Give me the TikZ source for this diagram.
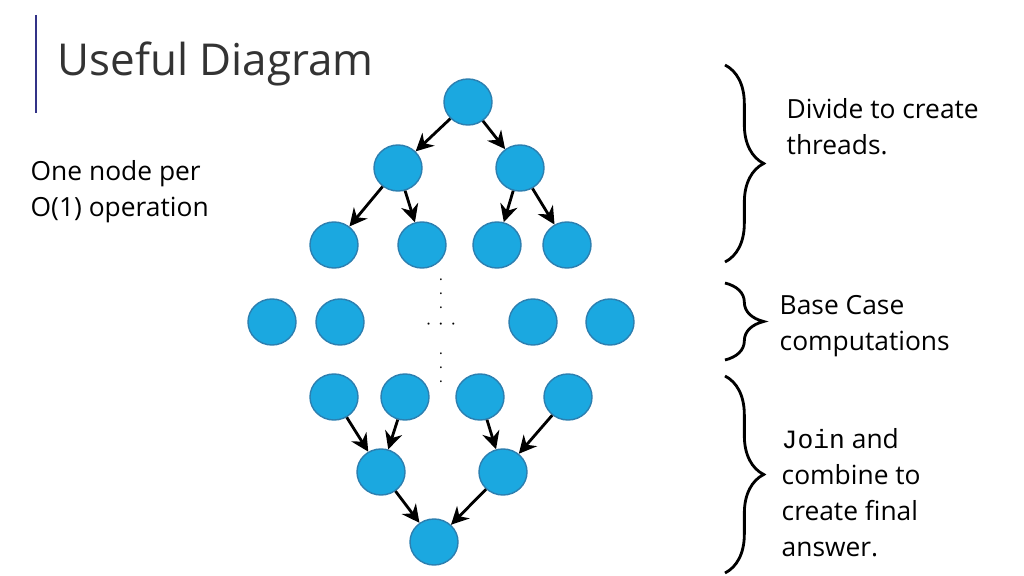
\documentclass[tikz,border=0pt]{standalone}
\usepackage{fontspec}
\setmainfont{Open Sans}
\setmonofont{Liberation Mono}
\usetikzlibrary{decorations.pathreplacing,arrows.meta,shapes.geometric}
\definecolor{dot}{HTML}{1BA8E0}
\definecolor{rim}{HTML}{2C7FB0}
\tikzset{
  vert/.style={ellipse,draw=rim,line width=0.4pt,fill=dot,minimum width=0.48cm,minimum height=0.46cm,inner sep=0pt},
  edge/.style={-{Stealth[length=5pt,width=5pt]},line width=0.8pt},
  bracket/.style={decorate,decoration={brace,amplitude=11pt},line width=0.8pt},
  words/.style={align=left,anchor=north west,inner sep=0pt,font=\fontsize{7.5}{10.2}\selectfont},
  gap/.style={inner sep=0pt,font=\fontsize{4}{4}\selectfont}
}
\begin{document}
\begin{tikzpicture}[x=0.01cm,y=-0.01cm]
\useasboundingbox (0,0) rectangle (1024,576);
% title
\draw[color=black!45!blue!60!gray,line width=0.6pt] (36,15) -- (36,113);
\node[anchor=base west,inner sep=0pt,font=\fontsize{12.5}{14}\selectfont,text=black!80] (title) at (57,76) {Useful Diagram};
\node[words] (note) at (30,160) {One node per\\O(1) operation};
% divide
\node[vert] (r) at (468,102) {};
\node[vert] (a) at (398,168) {};
\node[vert] (b) at (520,168) {};
\node[vert] (a1) at (334,245) {};
\node[vert] (a2) at (422,245) {};
\node[vert] (b1) at (497,245) {};
\node[vert] (b2) at (567,245) {};
\foreach \p/\c in {r/a,r/b,a/a1,a/a2,b/b1,b/b2}
  \draw[edge] (\p) -- (\c);
% base cases
\node[vert] (c1) at (272,322) {};
\node[vert] (c2) at (340,322) {};
\node[vert] (c3) at (533,322) {};
\node[vert] (c4) at (610,322) {};
\node[gap] (vdots1) at (441,283) {$\vdots$};
\node[gap] (hdots) at (441,324) {$\cdots$};
\node[gap] (vdots2) at (441,357) {$\vdots$};
% join
\node[vert] (d1) at (334,397) {};
\node[vert] (d2) at (405,397) {};
\node[vert] (d3) at (480,397) {};
\node[vert] (d4) at (568,397) {};
\node[vert] (e1) at (381,472) {};
\node[vert] (e2) at (503,472) {};
\node[vert] (f) at (434,542) {};
\foreach \p/\c in {d1/e1,d2/e1,d3/e2,d4/e2,e1/f,e2/f}
  \draw[edge] (\p) -- (\c);
% braces
\draw[bracket] (725,65) -- (725,262);
\draw[bracket] (725,283) -- (725,360);
\draw[bracket] (725,376) -- (725,573);
\node[words] (divtext) at (786,98) {Divide to create\\threads.};
\node[words] (basetext) at (779,295) {Base Case\\computations};
\node[words] (jointext) at (781,428) {\texttt{Join} and\\combine to\\create final\\answer.};
\end{tikzpicture}
\end{document}
